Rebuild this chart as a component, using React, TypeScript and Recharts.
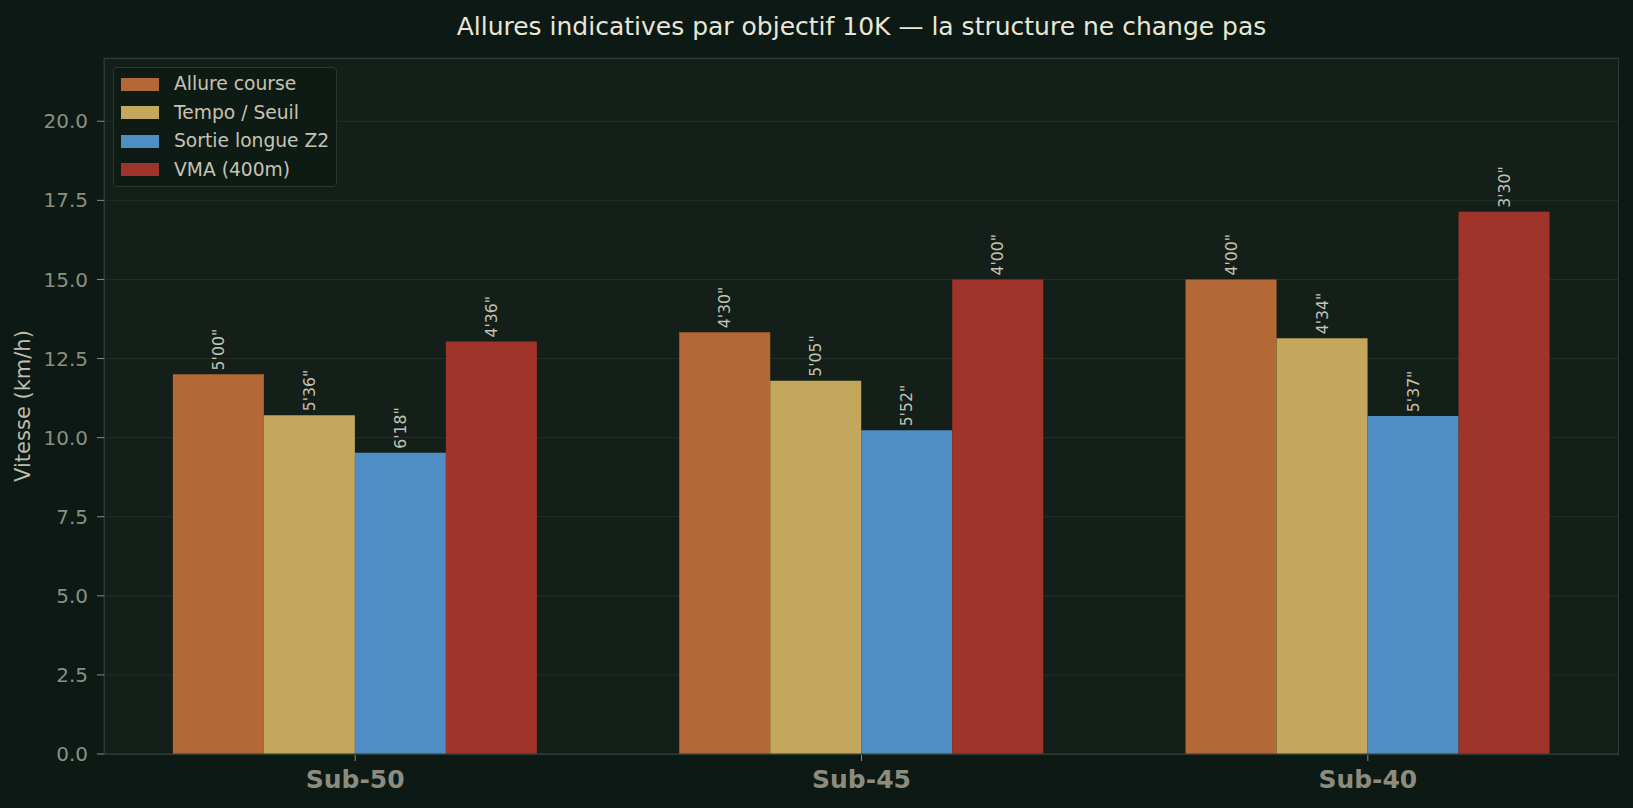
import React from 'react';
import { BarChart, Bar, XAxis, YAxis, CartesianGrid, LabelList } from 'recharts';

const categories = ['Sub-50', 'Sub-45', 'Sub-40'];
const allureCourse = [12.0, 13.33, 15.0];
const tempoSeuil = [10.71, 11.8, 13.14];
const sortieLongue = [9.52, 10.23, 10.68];
const vma = [13.04, 15.0, 17.14];

const allureCourseP = ["5'00\"", "4'30\"", "4'00\""];
const tempoSeuilP = ["5'36\"", "5'05\"", "4'34\""];
const sortieLongueP = ["6'18\"", "5'52\"", "5'37\""];
const vmaP = ["4'36\"", "4'00\"", "3'30\""];

const yTicks = [0, 2.5, 5, 7.5, 10, 12.5, 15, 17.5, 20];

const seriesNames = ['Allure course', 'Tempo / Seuil', 'Sortie longue Z2', 'VMA (400m)'];
const seriesKeys = ['allure', 'tempo', 'sortie', 'vma'];
const colors = ['#b46836', '#c2a75d', '#4f8ec4', '#a0342a'];

const data = categories.map((c, i) => ({
  name: c,
  allure: allureCourse[i],
  tempo: tempoSeuil[i],
  sortie: sortieLongue[i],
  vma: vma[i],
  allureP: allureCourseP[i],
  tempoP: tempoSeuilP[i],
  sortieP: sortieLongueP[i],
  vmaP: vmaP[i],
}));

const FONT = '"DejaVu Sans", Verdana, sans-serif';

const renderLabel = (props: any) => {
  const { x, y, width, value } = props;
  const cx = x + width / 2;
  const ty = y - 4;
  return (
    <text
      x={cx}
      y={ty}
      transform={`rotate(-90 ${cx} ${ty})`}
      textAnchor="start"
      dominantBaseline="central"
      fill="#c4c4b4"
      fontSize={15.7}
      fontFamily={FONT}
    >
      {value}
    </text>
  );
};

export default function App() {
  const W = 1633;
  const H = 808;
  const left = 104;
  const top = 58;
  const plotW = 1515;
  const plotH = 696;
  return (
    <div
      style={{
        position: 'absolute',
        left: 0,
        top: 0,
        width: W,
        height: H,
        background: '#0d1914',
        fontFamily: FONT,
        overflow: 'hidden',
      }}
    >
      <div
        style={{
          position: 'absolute',
          left: left,
          width: plotW,
          top: 10,
          height: 34,
          lineHeight: '34px',
          textAlign: 'center',
          color: '#e8e6d8',
          fontSize: 25,
        }}
      >
        Allures indicatives par objectif 10K — la structure ne change pas
      </div>
      <div
        style={{
          position: 'absolute',
          left: 23,
          top: top + plotH / 2,
          transform: 'translate(-50%, -50%) rotate(-90deg)',
          color: '#bebeae',
          fontSize: 21,
          whiteSpace: 'nowrap',
        }}
      >
        Vitesse (km/h)
      </div>
      <BarChart
        width={W}
        height={H}
        data={data}
        margin={{ top: top, right: W - left - plotW, bottom: 0, left: 0 }}
        barCategoryGap="14%"
        barGap={0}
      >
        <CartesianGrid
          vertical={false}
          stroke="#233029"
          strokeWidth={1}
          fill="#141f19"
          fillOpacity={1}
        />
        <XAxis
          dataKey="name"
          height={H - top - plotH}
          padding={{ left: -2, right: -2 }}
          tickLine={{ stroke: '#8a8e80' }}
          tickSize={7}
          tickMargin={9}
          axisLine={{ stroke: '#2c3b33' }}
          tick={{ fill: '#8c8c7e', fontSize: 25, fontWeight: 'bold', fontFamily: FONT }}
          interval={0}
        />
        <YAxis
          width={left}
          domain={[0, 22]}
          ticks={yTicks}
          allowDataOverflow
          tickFormatter={(v: number) => v.toFixed(1)}
          tickLine={{ stroke: '#8a8e80' }}
          tickSize={7}
          tickMargin={9}
          axisLine={{ stroke: '#2c3b33' }}
          tick={{ fill: '#8c8f80', fontSize: 20, fontFamily: FONT }}
        />
        {seriesKeys.map((k, i) => (
          <Bar key={k} dataKey={k} fill={colors[i]} isAnimationActive={false}>
            <LabelList dataKey={k + 'P'} content={renderLabel} />
          </Bar>
        ))}
      </BarChart>
      <div
        style={{
          position: 'absolute',
          left: left,
          top: top,
          width: plotW - 2,
          height: plotH - 1,
          border: '1px solid #2c3b33',
          pointerEvents: 'none',
        }}
      />
      <div
        style={{
          position: 'absolute',
          left: 113,
          top: 67,
          width: 222,
          height: 118,
          border: '1px solid #2a3830',
          borderRadius: 4,
          background: 'rgba(14,26,20,0.92)',
        }}
      >
        {seriesNames.map((n, i) => (
          <div
            key={n}
            style={{
              position: 'absolute',
              left: 7,
              top: 8 + i * 28.5,
              height: 16,
              display: 'flex',
              alignItems: 'center',
              whiteSpace: 'nowrap',
            }}
          >
            <div style={{ width: 38, height: 13, background: colors[i] }} />
            <div style={{ marginLeft: 15, color: '#c6c4b4', fontSize: 18.7, lineHeight: '16px' }}>{n}</div>
          </div>
        ))}
      </div>
    </div>
  );
}
